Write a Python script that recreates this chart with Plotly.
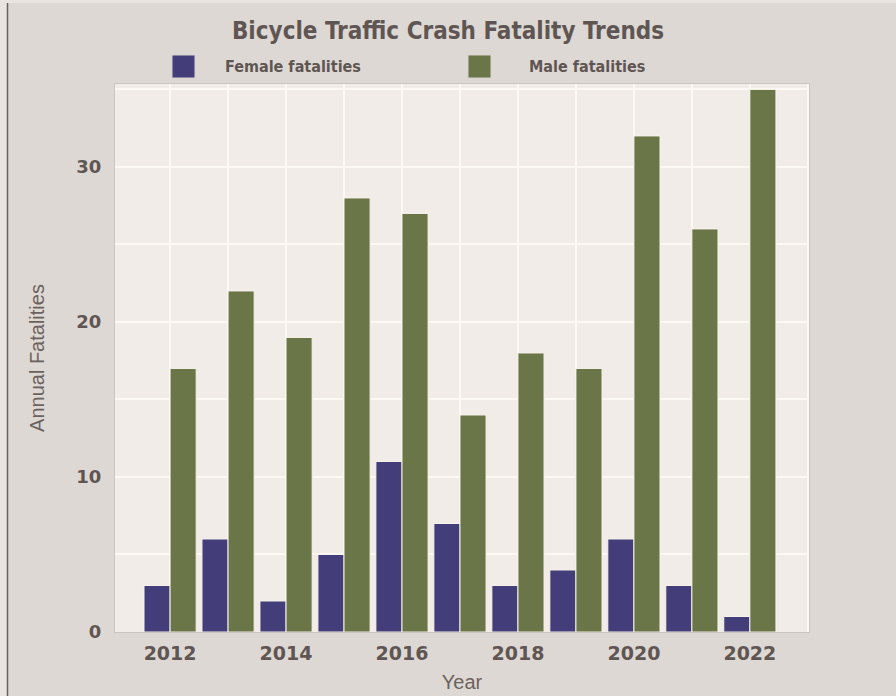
import plotly.graph_objects as go

years = [2012, 2013, 2014, 2015, 2016, 2017, 2018, 2019, 2020, 2021, 2022]
female = [3, 6, 2, 5, 11, 7, 3, 4, 6, 3, 1]
male = [17, 22, 19, 28, 27, 14, 18, 17, 32, 26, 35]
series_names = ["Female fatalities", "Male fatalities"]
series_colors = ["#433e7a", "#6a7548"]
x_tick_labels = ["2012", "2014", "2016", "2018", "2020", "2022"]
y_tick_labels = ["0", "10", "20", "30"]

W, H = 896, 696
ML, MR, MT, MB = 115, 87, 84, 64
PW, PH = W - ML - MR, H - MT - MB


def px_x(p):
    return (p - ML) / PW


def px_y(p):
    return (H - MB - p) / PH


TXT = "#5f5653"
COND = "DejaVu Sans Condensed, Liberation Sans, sans-serif"
fig = go.Figure()
for vals, name, col in zip([female, male], series_names, series_colors):
    fig.add_trace(go.Bar(
        x=years, y=vals, name=name, marker_color=col,
        marker_line_color="#f7f2ea", marker_line_width=1, showlegend=False,
    ))

shapes = [
    dict(type="rect", xref="paper", yref="paper", x0=px_x(-5), x1=px_x(7), y0=px_y(H + 5), y1=px_y(-5),
         fillcolor="#e9e4e0", line_width=0, layer="below"),
    dict(type="rect", xref="paper", yref="paper", x0=px_x(7), x1=px_x(W + 5), y0=px_y(3), y1=px_y(-5),
         fillcolor="#e9e4e0", line_width=0, layer="below"),
    dict(type="line", xref="paper", yref="paper", x0=px_x(7.5), x1=px_x(7.5), y0=px_y(3), y1=px_y(H + 5),
         line=dict(color="#6a625e", width=1.5)),
]
annotations = []
leg_x = [172, 468]
leg_text_x = [223, 527]
for i, (name, col) in enumerate(zip(series_names, series_colors)):
    shapes.append(dict(type="rect", xref="paper", yref="paper",
                       x0=px_x(leg_x[i]), x1=px_x(leg_x[i] + 23), y0=px_y(78), y1=px_y(55),
                       fillcolor=col, line=dict(color="#d8d2cc", width=1)))
    annotations.append(dict(text="<b>" + name + "</b>", xref="paper", yref="paper",
                            x=px_x(leg_text_x[i]), y=px_y(66.5), xanchor="left", yanchor="middle",
                            showarrow=False, font=dict(family=COND, size=16, color=TXT)))

fig.update_layout(
    width=W, height=H,
    margin=dict(l=ML, r=MR, t=MT, b=MB, autoexpand=False),
    paper_bgcolor="#ddd8d3",
    plot_bgcolor="#f2ece9",
    barmode="group", bargap=0.1, bargroupgap=0,
    title=dict(text="<b>Bicycle Traffic Crash Fatality Trends</b>", x=0.5, xanchor="center",
               y=1 - 31 / H, yanchor="middle", yref="container",
               font=dict(family=COND, size=24, color=TXT)),
    shapes=shapes, annotations=annotations,
    font=dict(family="DejaVu Sans, sans-serif", color=TXT),
)
fig.update_xaxes(
    range=[2011.05, 2023.02], tickmode="array", tickvals=[int(t) for t in x_tick_labels],
    ticktext=["<b>" + t + "</b>" for t in x_tick_labels],
    tickfont=dict(family="DejaVu Sans, sans-serif", size=19, color=TXT),
    ticks="", ticklabelstandoff=4, automargin=False,
    showgrid=True, gridcolor="#fcf9f5", gridwidth=1.5,
    minor=dict(dtick=1, tick0=2012, showgrid=True, gridcolor="#fcf9f5", gridwidth=1.5),
    showline=True, linecolor="#cbc4bf", linewidth=1, mirror=True,
    title=dict(text="Year", standoff=12,
               font=dict(family="Liberation Sans, Arial, sans-serif", size=20, color="#6b625e")),
    zeroline=False,
)
fig.update_yaxes(
    range=[0, 35.35], tickmode="array", tickvals=[int(t) for t in y_tick_labels],
    ticktext=["<b>" + t + "</b>" for t in y_tick_labels],
    tickfont=dict(family="DejaVu Sans, sans-serif", size=18, color=TXT),
    ticks="", ticklabelstandoff=9, automargin=False,
    showgrid=True, gridcolor="#fcf9f5", gridwidth=1.5,
    minor=dict(dtick=5, tick0=0, showgrid=True, gridcolor="#fcf9f5", gridwidth=1.5),
    showline=True, linecolor="#cbc4bf", linewidth=1, mirror=True,
    title=dict(text="Annual Fatalities", standoff=26,
               font=dict(family="Liberation Sans, Arial, sans-serif", size=20, color="#6b625e")),
    zeroline=False,
)

fig.write_html("out.html", config={"displayModeBar": False},
               post_script="document.body.style.margin='0';document.body.style.overflow='hidden';")
